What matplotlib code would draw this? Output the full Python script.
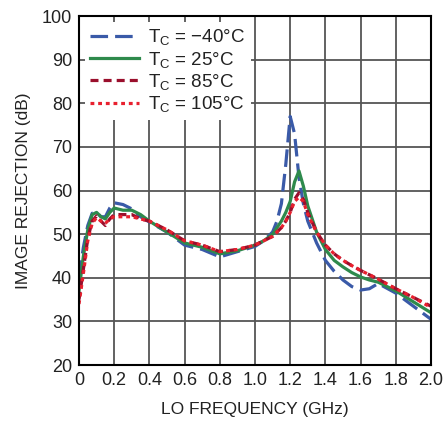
"""Image rejection vs LO frequency at four case temperatures."""

import matplotlib
matplotlib.use("Agg")
import matplotlib.pyplot as plt

plt.rcParams['font.family'] = ['Liberation Sans', 'DejaVu Sans']
plt.rcParams['mathtext.default'] = 'regular'

# LO frequency (GHz), shared by all curves
freq_ghz = [0.0, 0.025, 0.05, 0.075, 0.1, 0.125, 0.15, 0.175, 0.2, 0.25,
            0.3, 0.35, 0.4, 0.5, 0.6, 0.7, 0.8, 0.9, 1.0, 1.05,
            1.1, 1.125, 1.15, 1.175, 1.2, 1.225, 1.25, 1.275, 1.3, 1.35,
            1.4, 1.45, 1.5, 1.55, 1.6, 1.65, 1.7, 1.8, 1.9, 2.0]

# image rejection (dB)
ir_m40 = [40, 47, 52, 54.8, 55, 54, 54, 56, 57.2, 56.8,
          55.8, 54, 52.8, 50.5, 47.5, 46.5, 44.8, 46, 47.2, 48.5,
          50.5, 53, 57, 66, 77, 73, 63, 57, 53, 48,
          44, 41.5, 39.5, 38, 37.2, 37.5, 38.7, 36.5, 33.5, 30.5]
ir_25 = [37, 45, 51, 54.5, 55, 54, 53.5, 55, 56, 55.5,
         55.5, 54.5, 53, 50.5, 48, 47, 45.5, 46.2, 47.5, 48.5,
         50, 51.5, 53, 55, 57.5, 62, 64.5, 61, 56.5, 50.5,
         46.5, 44, 42.5, 41.2, 40.2, 39.5, 39, 37, 34.5, 32]
ir_85 = [35, 42, 49, 53, 54.2, 53, 52, 53.5, 54.5, 54.5,
         54.5, 53.5, 53, 51, 48.5, 47.5, 46, 46.5, 47.5, 48.5,
         49.5, 50.5, 51.5, 53, 55, 58, 59.5, 58, 55, 50.5,
         47.5, 45.5, 44, 42.8, 41.7, 40.7, 39.7, 37.5, 35.5, 33.5]
ir_105 = [34, 41, 48.5, 52.5, 53.8, 53, 52.5, 53.5, 54, 54,
          54, 53.5, 53, 51, 48.5, 47.5, 46, 46.5, 47.5, 48.5,
          49.5, 50.5, 51.5, 53, 55, 57.5, 58.5, 57.5, 54.5, 50.5,
          47.5, 45.5, 44, 42.8, 41.7, 40.7, 39.7, 37.5, 35.5, 33.2]

labels = ['T$_{C}$ = \u221240°C', 'T$_{C}$ = 25°C', 'T$_{C}$ = 85°C', 'T$_{C}$ = 105°C']
xticks = [0, 0.2, 0.4, 0.6, 0.8, 1.0, 1.2, 1.4, 1.6, 1.8, 2.0]
xtick_labels = ['0', '0.2', '0.4', '0.6', '0.8', '1.0', '1.2', '1.4', '1.6', '1.8', '2.0']
yticks = [20, 30, 40, 50, 60, 70, 80, 90, 100]

fig = plt.figure(figsize=(4.45, 4.24), dpi=100)
ax = fig.add_axes([0.1775, 0.139, 0.791, 0.823])

ax.plot(freq_ghz, ir_m40, color='#3a5aa8', lw=2.3, dashes=(5.5, 2.2), label=labels[0])
ax.plot(freq_ghz, ir_25, color='#2e8a4c', lw=2.3, label=labels[1])
ax.plot(freq_ghz, ir_85, color='#9a0f2c', lw=2.3, dashes=(2.5, 1.6), label=labels[2])
ax.plot(freq_ghz, ir_105, color='#e8202e', lw=2.3, dashes=(1.2, 1.2), label=labels[3])

ax.set_xlim(0, 2.0)
ax.set_ylim(20, 100)
ax.set_xticks(xticks)
ax.set_xticklabels(xtick_labels)
ax.set_yticks(yticks)
ax.grid(True, color='#555555', lw=1.3)
ax.set_axisbelow(True)
ax.tick_params(length=0, labelsize=13, pad=5, colors='#222222')
for s in ax.spines.values():
    s.set_linewidth(1.5)

ax.set_xlabel('LO FREQUENCY (GHz)', fontsize=12.5, color='#222222', labelpad=9)
ax.set_ylabel('IMAGE REJECTION (dB)', fontsize=12.5, color='#222222', labelpad=8)

leg = ax.legend(loc='upper left', frameon=True, fontsize=13.5, handlelength=2.6,
                labelspacing=0.12, borderaxespad=0.3, handletextpad=0.5,
                borderpad=0.3, fancybox=False)
leg.get_frame().set_edgecolor('none')
leg.get_frame().set_facecolor('white')
leg.get_frame().set_alpha(1)
for t in leg.get_texts():
    t.set_color('#222222')

fig.savefig('out.png', dpi=100)
